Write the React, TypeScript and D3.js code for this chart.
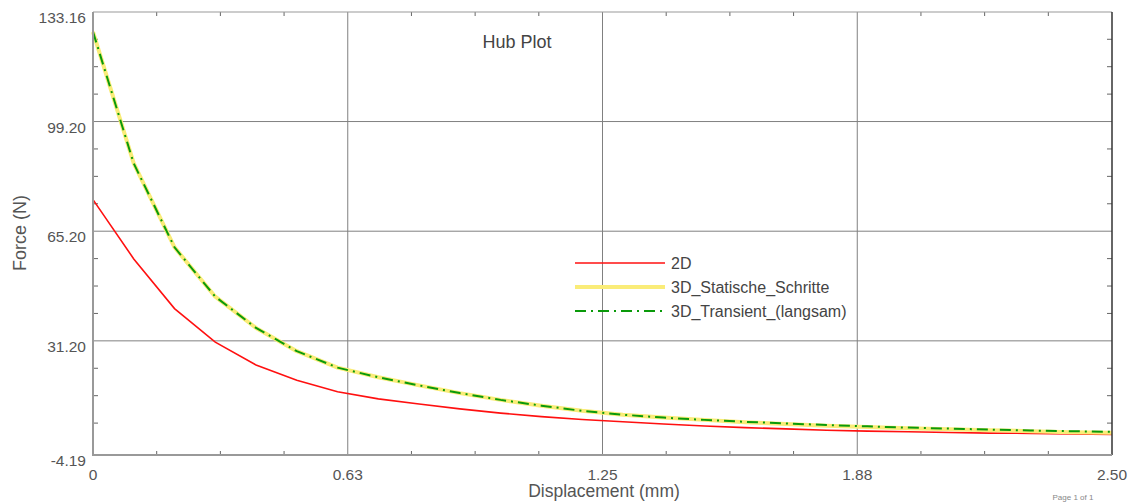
import React, { useRef, useEffect } from 'react';
import * as d3 from 'd3';

const width = 1130;
const height = 502;
const margin = { top: 12, right: 18, bottom: 47, left: 93 };

// displacement (mm), one sample every 0.1 mm
const displacement = [
    0, 0.1, 0.2, 0.3, 0.4, 0.5, 0.6, 0.7, 0.8, 0.9, 1.0, 1.1, 1.2,
    1.3, 1.4, 1.5, 1.6, 1.7, 1.8, 1.9, 2.0, 2.1, 2.2, 2.3, 2.4, 2.5
];

const force2D = [
    75.0, 56.6, 41.2, 30.8, 23.7, 19.0, 15.4, 13.2, 11.6, 10.1, 8.8, 7.7, 6.8,
    6.1, 5.4, 4.8, 4.3, 3.9, 3.5, 3.2, 3.0, 2.8, 2.6, 2.5, 2.3, 2.2
];

const force3DStatic = [
    127.0, 86.2, 60.2, 44.9, 35.2, 28.0, 22.9, 19.9, 17.4, 15.0, 12.9, 11.1, 9.5,
    8.3, 7.4, 6.7, 6.0, 5.4, 4.9, 4.5, 4.1, 3.8, 3.5, 3.2, 2.9, 2.7
];

const force3DTransient = [
    127.0, 86.2, 60.2, 44.9, 35.2, 28.0, 22.9, 19.9, 17.4, 15.0, 12.9, 11.1, 9.5,
    8.3, 7.4, 6.7, 6.1, 5.6, 5.1, 4.7, 4.3, 4.0, 3.7, 3.4, 3.2, 3.0
];

const seriesNames = ['2D', '3D_Statische_Schritte', '3D_Transient_(langsam)'];

const xTicks = [0, 0.625, 1.25, 1.875, 2.5];
const xTickLabels = ['0', '0.63', '1.25', '1.88', '2.50'];
const yTicks = [-4.19, 31.2, 65.2, 99.2, 133.16];
const yTickLabels = ['-4.19', '31.20', '65.20', '99.20', '133.16'];

const font = '"Liberation Sans", Arial, sans-serif';

export default function App() {
    const svgRef = useRef<SVGSVGElement>(null);

    useEffect(() => {
        const svg = d3.select(svgRef.current);
        svg.selectAll('*').remove();

        const x = d3.scaleLinear()
            .domain([0, 2.5])
            .range([margin.left, width - margin.right]);
        const y = d3.scaleLinear()
            .domain([-4.19, 133.16])
            .range([height - margin.bottom, margin.top]);

        const x0 = x.range()[0], x1 = x.range()[1];
        const y0 = y.range()[0], y1 = y.range()[1];

        // grid lines
        svg.append('g')
            .selectAll('line')
            .data(xTicks.slice(1, -1))
            .enter()
            .append('line')
            .attr('x1', d => x(d)).attr('x2', d => x(d))
            .attr('y1', y1).attr('y2', y0)
            .attr('stroke', '#808080').attr('stroke-width', 1);
        svg.append('g')
            .selectAll('line')
            .data(yTicks.slice(1, -1))
            .enter()
            .append('line')
            .attr('x1', x0).attr('x2', x1)
            .attr('y1', d => y(d)).attr('y2', d => y(d))
            .attr('stroke', '#808080').attr('stroke-width', 1);

        // minor ticks, 4 subdivisions per grid cell, pointing inward
        const xMinor: number[] = [];
        for (let i = 0; i < xTicks.length - 1; i++) {
            for (let k = 1; k < 4; k++) xMinor.push(xTicks[i] + (xTicks[i + 1] - xTicks[i]) * k / 4);
        }
        const yStep = (99.2 - 65.2) / 4;
        const yMinor: number[] = [];
        for (let v = 31.2 - yStep; v > -4.19 + 3; v -= yStep) yMinor.push(v);
        for (let i = 1; i < yTicks.length - 1; i++) {
            for (let k = 1; k < 4; k++) yMinor.push(yTicks[i] + yStep * k);
        }

        const ticks = svg.append('g').attr('stroke', '#666').attr('stroke-width', 1);
        xMinor.forEach(v => {
            ticks.append('line').attr('x1', x(v)).attr('x2', x(v)).attr('y1', y0).attr('y2', y0 - 4);
            ticks.append('line').attr('x1', x(v)).attr('x2', x(v)).attr('y1', y1).attr('y2', y1 + 4);
        });
        yMinor.forEach(v => {
            ticks.append('line').attr('x1', x0).attr('x2', x0 + 5).attr('y1', y(v)).attr('y2', y(v));
            ticks.append('line').attr('x1', x1).attr('x2', x1 - 5).attr('y1', y(v)).attr('y2', y(v));
        });

        // series
        const line = d3.line<number>()
            .x((_, i) => x(displacement[i]))
            .y(d => y(d));

        svg.append('path')
            .attr('d', line(force2D))
            .attr('fill', 'none')
            .attr('stroke', '#ff1010')
            .attr('stroke-width', 1.6);
        svg.append('path')
            .attr('d', line(force3DStatic))
            .attr('fill', 'none')
            .attr('stroke', '#faec78')
            .attr('stroke-width', 4)
            .attr('stroke-linejoin', 'round');
        svg.append('path')
            .attr('d', line(force3DTransient))
            .attr('fill', 'none')
            .attr('stroke', '#0a9a0a')
            .attr('stroke-width', 2)
            .attr('stroke-dasharray', '11,5,2,5');

        // frame
        svg.append('line').attr('x1', x0).attr('x2', x1).attr('y1', y1).attr('y2', y1)
            .attr('stroke', '#999').attr('stroke-width', 1);
        svg.append('line').attr('x1', x1).attr('x2', x1).attr('y1', y1).attr('y2', y0)
            .attr('stroke', '#333').attr('stroke-width', 1.5);
        svg.append('line').attr('x1', x0).attr('x2', x0).attr('y1', y1).attr('y2', y0 + 1)
            .attr('stroke', '#999').attr('stroke-width', 2);
        svg.append('line').attr('x1', x0).attr('x2', x1).attr('y1', y0).attr('y2', y0)
            .attr('stroke', '#999').attr('stroke-width', 2);

        // tick labels
        svg.append('g')
            .selectAll('text')
            .data(yTicks)
            .enter()
            .append('text')
            .attr('x', 86)
            .attr('y', d => y(d) + 11)
            .attr('text-anchor', 'end')
            .attr('font-family', font)
            .attr('font-size', 15.5)
            .attr('fill', '#555')
            .text((_, i) => yTickLabels[i]);
        svg.append('g')
            .selectAll('text')
            .data(xTicks)
            .enter()
            .append('text')
            .attr('x', d => x(d))
            .attr('y', y0 + 25)
            .attr('text-anchor', 'middle')
            .attr('font-family', font)
            .attr('font-size', 15.5)
            .attr('fill', '#555')
            .text((_, i) => xTickLabels[i]);

        // axis titles
        svg.append('text')
            .attr('x', 604).attr('y', 497)
            .attr('text-anchor', 'middle')
            .attr('font-family', font).attr('font-size', 17.5)
            .attr('fill', '#555')
            .text('Displacement (mm)');
        svg.append('text')
            .attr('transform', 'translate(26,233) rotate(-90)')
            .attr('text-anchor', 'middle')
            .attr('font-family', font).attr('font-size', 18)
            .attr('fill', '#555')
            .text('Force (N)');
        svg.append('text')
            .attr('x', 517).attr('y', 48)
            .attr('text-anchor', 'middle')
            .attr('font-family', font).attr('font-size', 18)
            .attr('fill', '#444')
            .text('Hub Plot');
        svg.append('text')
            .attr('x', 1073).attr('y', 500)
            .attr('text-anchor', 'middle')
            .attr('font-family', font).attr('font-size', 8)
            .attr('fill', '#888')
            .text('Page 1 of 1');

        // legend
        const legendStyles = [
            { stroke: '#ff1010', width: 1.6, dash: null },
            { stroke: '#faec78', width: 4, dash: null },
            { stroke: '#0a9a0a', width: 2, dash: '11,5,2,5' },
        ];
        const legendY = [263, 287, 311];
        const legend = svg.append('g');
        seriesNames.forEach((name, i) => {
            legend.append('line')
                .attr('x1', 575).attr('x2', 665)
                .attr('y1', legendY[i]).attr('y2', legendY[i])
                .attr('stroke', legendStyles[i].stroke)
                .attr('stroke-width', legendStyles[i].width)
                .attr('stroke-dasharray', legendStyles[i].dash);
            legend.append('text')
                .attr('x', 671).attr('y', legendY[i] + 5.5)
                .attr('font-family', font).attr('font-size', 16)
                .attr('fill', '#444')
                .text(name);
        });
    }, []);

    return (
        <svg
            ref={svgRef}
            width={width}
            height={height}
            style={{ position: 'absolute', left: 0, top: 0, background: '#fff' }}
        />
    );
}
